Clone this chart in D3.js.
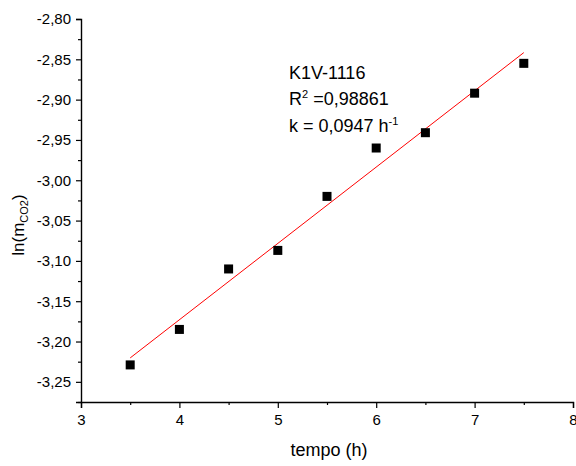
<!DOCTYPE html>
<html>
<head>
<meta charset="utf-8">
<script src="https://cdn.jsdelivr.net/npm/d3@7"></script>
<style>
  body { margin: 0; background: #fff; }
  svg { display: block; }
</style>
</head>
<body>
<div id="chart"></div>
<script>
// tempo (h)
const tempo = [3.5, 4.0, 4.5, 5.0, 5.5, 6.0, 6.5, 7.0, 7.5];
// ln(m_CO2)
const lnM = [-3.229, -3.185, -3.110, -3.087, -3.020, -2.960, -2.941, -2.892, -2.855];

const xTicks = [3, 4, 5, 6, 7, 8];
const yTicks = [-3.25, -3.20, -3.15, -3.10, -3.05, -3.00, -2.95, -2.90, -2.85, -2.80];
const xMinor = [3.5, 4.5, 5.5, 6.5, 7.5];
const yMinor = [-3.275, -3.225, -3.175, -3.125, -3.075, -3.025, -2.975, -2.925, -2.875, -2.825];

const sampleName = "K1V-1116";
const r2Text = "=0,98861";
const kText = "k = 0,0947 h";

const width = 576, height = 466;
const margin = { top: 19, right: 3, bottom: 64, left: 81 };

const locale = d3.formatLocale({ decimal: ",", thousands: ".", grouping: [3], currency: ["", ""], minus: "-" });
const fmt = locale.format(".2f");

const svg = d3.select("#chart").append("svg")
  .attr("width", width)
  .attr("height", height)
  .style("font-family", "Arial, 'Liberation Sans', sans-serif");

const x = d3.scaleLinear()
  .domain([3, 8])
  .range([margin.left, width - margin.right]);

const y = d3.scaleLinear()
  .domain([-3.275, -2.80])
  .range([height - margin.bottom, margin.top]);

// --- linear fit (least squares) ---
const mx = d3.mean(tempo), my = d3.mean(lnM);
const slope = d3.sum(tempo, (t, i) => (t - mx) * (lnM[i] - my)) / d3.sum(tempo, t => (t - mx) ** 2);
const icept = my - slope * mx;
const xFit = d3.extent(tempo);

svg.append("line")
  .attr("x1", x(xFit[0])).attr("y1", y(icept + slope * xFit[0]))
  .attr("x2", x(xFit[1])).attr("y2", y(icept + slope * xFit[1]))
  .attr("stroke", "#ff0000")
  .attr("stroke-width", 1);

// --- points ---
const sq = 9;
svg.selectAll("rect.pt")
  .data(tempo)
  .enter().append("rect")
  .attr("class", "pt")
  .attr("x", d => x(d) - sq / 2)
  .attr("y", (d, i) => y(lnM[i]) - sq / 2)
  .attr("width", sq)
  .attr("height", sq)
  .attr("fill", "#000");

// --- axes ---
svg.append("g")
  .attr("transform", `translate(0,${height - margin.bottom})`)
  .call(d3.axisBottom(x).tickValues(xTicks).tickSize(6).tickPadding(6).tickFormat(d3.format("d")));

svg.append("g")
  .attr("transform", `translate(0,${height - margin.bottom})`)
  .call(d3.axisBottom(x).tickValues(xMinor).tickSize(3).tickFormat(""))
  .select(".domain").remove();

svg.append("g")
  .attr("transform", `translate(${margin.left},0)`)
  .call(d3.axisLeft(y).tickValues(yTicks).tickSize(5).tickPadding(5).tickFormat(fmt));

svg.append("g")
  .attr("transform", `translate(${margin.left},0)`)
  .call(d3.axisLeft(y).tickValues(yMinor).tickSize(3).tickFormat(""))
  .select(".domain").remove();

svg.selectAll(".domain").attr("stroke", "#000").attr("stroke-width", 1.4);
svg.selectAll(".tick line").attr("stroke", "#000").attr("stroke-width", 1.2);
svg.selectAll(".tick text")
  .attr("fill", "#000")
  .style("font-family", "Arial, 'Liberation Sans', sans-serif")
  .style("font-size", "15px");

// --- axis titles ---
svg.append("text")
  .attr("x", 329)
  .attr("y", 456)
  .attr("text-anchor", "middle")
  .style("font-size", "18px")
  .text("tempo (h)");

const yTitle = svg.append("text")
  .attr("transform", "translate(24,225) rotate(-90)")
  .attr("text-anchor", "middle")
  .style("font-size", "17px");
yTitle.append("tspan").text("ln(m");
yTitle.append("tspan").attr("dy", 4).style("font-size", "11px").text("CO2");
yTitle.append("tspan").attr("dy", -4).text(")");

// --- annotation ---
const ann = svg.append("g").style("font-size", "18px").attr("fill", "#000");
ann.append("text").attr("x", 289).attr("y", 79).text(sampleName);

const r2 = ann.append("text").attr("x", 289).attr("y", 105);
r2.append("tspan").text("R");
r2.append("tspan").attr("dy", -7).style("font-size", "11px").text("2");
r2.append("tspan").attr("dy", 7).text(" " + r2Text);

const kt = ann.append("text").attr("x", 289).attr("y", 132);
kt.append("tspan").text(kText);
kt.append("tspan").attr("dy", -7).style("font-size", "11px").text("-1");
</script>
</body>
</html>
